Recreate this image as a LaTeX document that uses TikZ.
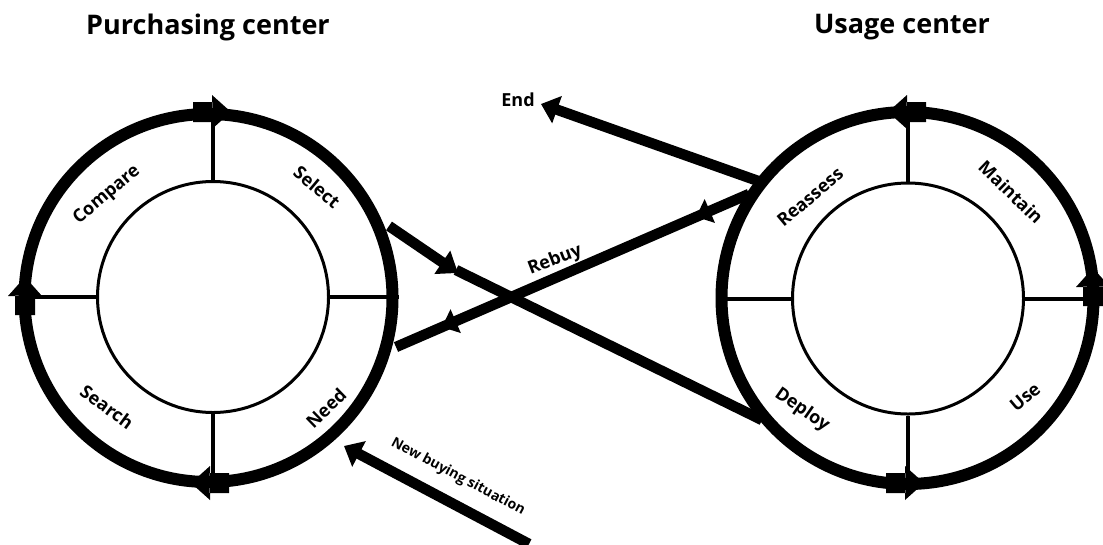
\documentclass[tikz,border=0pt]{standalone}
\usepackage{fontspec}
\setmainfont{Open Sans}
\usetikzlibrary{arrows.meta,decorations.markings}
\tikzset{
  ring/.style={circle,draw,line width=12pt,inner sep=0pt},
  innerring/.style={circle,draw,line width=3pt,inner sep=0pt},
  spoke/.style={line width=4pt},
  conn/.style={line width=10.5pt},
  title/.style={font=\fontsize{27}{31}\selectfont\bfseries},
  lab/.style={font=\fontsize{18}{21}\selectfont\bfseries,inner sep=0pt},
  smalllab/.style={font=\fontsize{14}{16}\selectfont\bfseries,inner sep=0pt},
  bigtip/.style={-{Triangle[width=28pt,length=17pt]}},
}
\newcommand\ringarrow[2]{\fill[shift={#1},rotate=#2] (-19,-10) rectangle (0.5,10) (0,-17) -- (19,0) -- (0,17) -- cycle;}
\begin{document}
\begin{tikzpicture}[x=1pt,y=-1pt]
\fill[white] (0,0) rectangle (1103,544);
\useasboundingbox (0,0) rectangle (1103,544);

% titles
\node[title] (tL) at (208,27) {Purchasing center};
\node[title] (tR) at (902,27) {Usage center};

% left cycle
\node[ring,minimum size=368pt] (Lout) at (208.5,298) {};
\node[innerring,minimum size=231pt] (Lin) at (213,297) {};
\draw[spoke] (Lin.north) -- (Lin.north |- Lout.north);
\draw[spoke] (Lin.south) -- (Lin.south |- Lout.south);
\draw[spoke] (Lin.west) -- (Lin.west -| Lout.west);
\draw[spoke] (Lin.east) -- (Lin.east -| Lout.east);
\ringarrow{(212,112)}{0}
\ringarrow{(25,296)}{90}
\ringarrow{(210,483)}{180}
\node[lab,rotate=40] (cmp) at (107,195) {Compare};
\node[lab,rotate=-40] (sel) at (317,187) {Select};
\node[lab,rotate=-36] (sea) at (107,407) {Search};
\node[lab,rotate=44] (need) at (326,408) {Need};

% right cycle
\node[ring,minimum size=372pt] (Rout) at (907.5,298) {};
\node[innerring,minimum size=231pt] (Rin) at (908,298.5) {};
\draw[spoke] (Rin.north) -- (Rin.north |- Rout.north);
\draw[spoke] (Rin.south) -- (Rin.south |- Rout.south);
\draw[spoke] (Rin.west) -- (Rin.west -| Rout.west);
\draw[spoke] (Rin.east) -- (Rin.east -| Rout.east);
\ringarrow{(907,112)}{180}
\ringarrow{(1093,287)}{90}
\ringarrow{(905,483)}{0}
\node[lab,rotate=40] (rea) at (810,197) {Reassess};
\node[lab,rotate=-44] (mnt) at (1011,192) {Maintain};
\node[lab,rotate=-35] (dep) at (802,410) {Deploy};
\node[lab,rotate=40] (use) at (1025,397) {Use};

% connectors
\coordinate (selA) at (389,226);
\coordinate (selB) at (458,273);
\coordinate (depA) at (762,420);
\draw[conn,-{Triangle[width=27pt,length=19pt]}] (selA) -- (selB);
\draw[conn] (selB) ++(-2,-3) -- (depA);

\coordinate (reaB) at (749,194);
\coordinate (needC) at (396,347);
\draw[conn,postaction={decorate},decoration={markings,
  mark=at position 0.15 with {\arrow{Triangle[width=25pt,length=15pt]}},
  mark=at position 0.87 with {\arrow{Triangle[width=25pt,length=15pt]}}}]
  (reaB) -- (needC);
\node[lab,rotate=21] (rebuy) at (555,260) {Rebuy};

\coordinate (reaA) at (761,182);
\node[lab] (endL) at (518,100) {End};
\coordinate (endT) at (541,104);
\draw[conn,bigtip] (reaA) -- (endT);

\coordinate (nbsS) at (529,544);
\coordinate (needT) at (344,446);
\draw[conn,bigtip] (nbsS) -- (needT);
\node[smalllab,rotate=-28] (nbs) at (458,477) {New buying situation};
\end{tikzpicture}
\end{document}
